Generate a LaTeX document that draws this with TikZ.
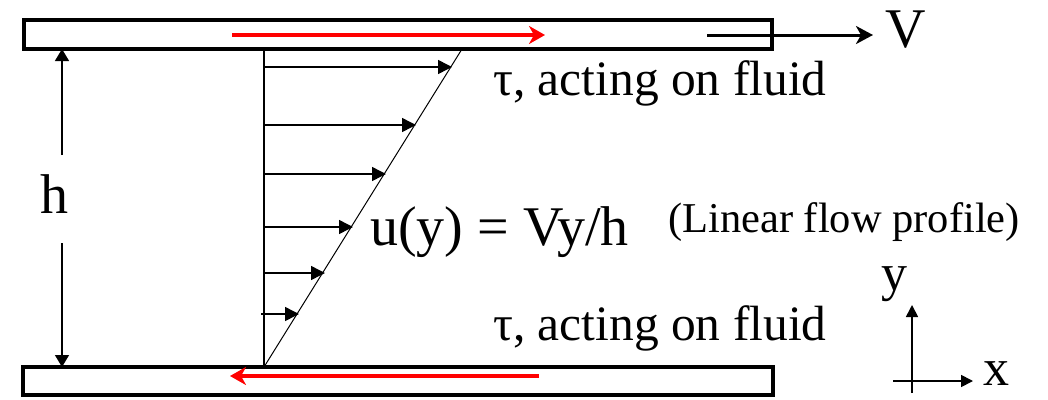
\documentclass[tikz,border=0pt]{standalone}
\usepackage{fontspec}
\setmainfont{Liberation Serif}
\usetikzlibrary{arrows.meta}
\begin{document}
\begin{tikzpicture}[x=1pt,y=-1pt,
  plate/.style={draw=black,line width=3.5pt,fill=white},
  vel/.style={line width=1.5pt,-{Triangle[length=14pt,width=14pt]}},
  dimarrow/.style={line width=1.5pt,-{Triangle[length=12pt,width=14pt]}},
  axisarrow/.style={line width=1.7pt,-{Triangle[length=12pt,width=12pt]}},
  shear/.style={red,line width=3.5pt,-{Stealth[length=16pt,width=18pt,inset=5pt]}},
  vmove/.style={line width=3pt,-{Stealth[length=17pt,width=18pt,inset=5pt]}},
  lbl/.style={inner sep=0pt,anchor=base west},
  bigtxt/.style={font=\fontsize{56}{56}\selectfont},
  midtxt/.style={font=\fontsize{49.5}{49.5}\selectfont},
  smalltxt/.style={font=\fontsize{42.5}{42.5}\selectfont},
  axtxt/.style={font=\fontsize{52}{52}\selectfont}]
\useasboundingbox (0,0) rectangle (1048,399);
% plates
\draw[plate] (24,20) rectangle (772,49);
\draw[plate] (23,367) rectangle (773,395);
% named points
\coordinate (rts) at (232,35);  \coordinate (rte) at (545,35);
\coordinate (rbs) at (539,376); \coordinate (rbe) at (230,376);
\coordinate (vs) at (707,35);   \coordinate (ve) at (873,35);
\coordinate (hu0) at (62,155);  \coordinate (hu1) at (62,49);
\coordinate (hd0) at (62,243);  \coordinate (hd1) at (62,367);
\coordinate (wtop) at (264,49); \coordinate (wbot) at (264,367);
\coordinate (dtop) at (462,49);
\coordinate (a1s) at (264,67);  \coordinate (a1e) at (452,67);
\coordinate (a2s) at (264,125); \coordinate (a2e) at (416,125);
\coordinate (a3s) at (264,174); \coordinate (a3e) at (386,174);
\coordinate (a4s) at (264,227); \coordinate (a4e) at (353,227);
\coordinate (a5s) at (264,273); \coordinate (a5e) at (325,273);
\coordinate (a6s) at (261,314); \coordinate (a6e) at (299,314);
\coordinate (ax0) at (893,381); \coordinate (ax1) at (973,381);
\coordinate (ay0) at (912,393); \coordinate (ay1) at (912,305);
% shear stress arrows
\draw[shear] (rts) -- (rte);
\draw[shear] (rbs) -- (rbe);
% plate velocity
\draw[vmove] (vs) -- (ve);
% gap height
\draw[dimarrow] (hu0) -- (hu1);
\draw[dimarrow] (hd0) -- (hd1);
% profile
\draw[line width=1.5pt] (wtop) -- (wbot);
\draw[line width=1pt] (wbot) -- (dtop);
\draw[vel] (a1s) -- (a1e);
\draw[vel] (a2s) -- (a2e);
\draw[vel] (a3s) -- (a3e);
\draw[vel] (a4s) -- (a4e);
\draw[vel] (a5s) -- (a5e);
\draw[vel] (a6s) -- (a6e);
% axes
\draw[axisarrow] (ax0) -- (ax1);
\draw[axisarrow] (ay0) -- (ay1);
% labels
\node[lbl,midtxt] (tautop) at (493,95) {τ, acting on fluid};
\node[lbl,midtxt] (taubot) at (493,340) {τ, acting on fluid};
\node[lbl,bigtxt] (ueq) at (370,245) {u(y) = Vy/h};
\node[lbl,smalltxt] (lin) at (668,232) {(Linear flow profile)};
\node[lbl,bigtxt] (hlab) at (40,213) {h};
\node[lbl,bigtxt] (vlab) at (885,47) {V};
\node[lbl,axtxt] (ylab) at (881,290) {y};
\node[lbl,axtxt] (xlab) at (983,385) {x};
\end{tikzpicture}
\end{document}
